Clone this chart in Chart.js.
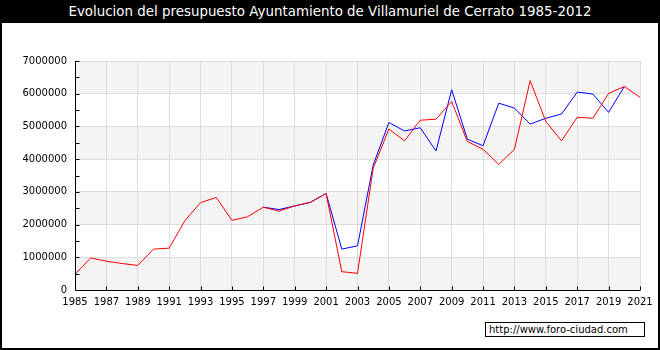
<!DOCTYPE html>
<html>
<head>
<meta charset="utf-8">
<script src="https://cdn.jsdelivr.net/npm/chart.js@4/dist/chart.umd.min.js"></script>
<style>
  body { margin: 0; background: #fff; }
  #wrap { position: relative; width: 660px; height: 350px; }
  #chart { position: absolute; left: 0; top: 0; }
  #frame { position: absolute; left: 0; top: 0; width: 660px; height: 350px; box-sizing: border-box;
           border: 2px solid #000; border-top: 0; pointer-events: none; }
  #title { position: absolute; left: 0; top: 0; width: 660px; height: 23px; background: #000; color: #fff;
           font: 13.4px "DejaVu Sans", sans-serif; line-height: 24px; text-align: center; }
  #credit { position: absolute; left: 485px; top: 322px; width: 160px; height: 15px; box-sizing: border-box;
            border: 1px solid #000; background: #fff; font: 10px "DejaVu Sans", sans-serif; line-height: 13px;
            padding-left: 3px; color: #000; }
</style>
</head>
<body>
<div id="wrap">
  <canvas id="chart" width="660" height="350"></canvas>
  <div id="frame"></div>
  <div id="title">Evolucion del presupuesto Ayuntamiento de Villamuriel de Cerrato 1985-2012</div>
  <div id="credit">http://www.foro-ciudad.com</div>
</div>
<script>
const years = [1985, 1986, 1987, 1988, 1989, 1990, 1991, 1992, 1993, 1994, 1995, 1996, 1997, 1998, 1999,
  2000, 2001, 2002, 2003, 2004, 2005, 2006, 2007, 2008, 2009, 2010, 2011, 2012, 2013, 2014, 2015, 2016,
  2017, 2018, 2019, 2020, 2021];

// red line
const ingresos = [480000, 980000, 880000, 810000, 750000, 1250000, 1280000, 2120000, 2670000, 2830000,
  2130000, 2240000, 2530000, 2410000, 2570000, 2680000, 2950000, 560000, 510000, 3720000, 4920000,
  4560000, 5190000, 5220000, 5760000, 4540000, 4300000, 3840000, 4300000, 6400000, 5150000, 4560000,
  5280000, 5250000, 6010000, 6220000, 5890000];

// blue line
const gastos = [null, null, null, null, null, null, null, null, null, null, null, null, 2530000, 2460000,
  2570000, 2680000, 2950000, 1250000, 1350000, 3820000, 5120000, 4860000, 4960000, 4250000, 6120000,
  4610000, 4410000, 5710000, 5560000, 5070000, 5250000, 5380000, 6050000, 5990000, 5430000, 6220000, null];

const yMax = 7000000;
const yStep = 1000000;

function toPoints(vals) {
    let pts = [];
    years.forEach((yr, i) => {
        pts.push({ x: yr, y: vals[i] });
    });
    return pts;
}

// alternating grey bands behind the grid
const bandsPlugin = {
    id: 'bands',
    beforeDraw(chart) {
        const { ctx, chartArea, scales } = chart;
        ctx.save();
        ctx.fillStyle = '#f4f4f4';
        for (let v = 0; v < yMax; v += 2 * yStep) {
            const top = scales.y.getPixelForValue(v + yStep);
            const bot = scales.y.getPixelForValue(v);
            ctx.fillRect(chartArea.left, top, chartArea.right - chartArea.left, bot - top);
        }
        ctx.restore();
    }
};

// black axes with short inward ticks
const axesPlugin = {
    id: 'axes',
    afterDraw(chart) {
        const { ctx, chartArea, scales } = chart;
        ctx.save();
        ctx.strokeStyle = '#000';
        ctx.lineWidth = 1;
        ctx.beginPath();
        const l = Math.round(chartArea.left) + 0.5;
        const b = Math.round(chartArea.bottom) + 0.5;
        ctx.moveTo(l, chartArea.top);
        ctx.lineTo(l, b);
        ctx.lineTo(chartArea.right, b);
        for (let v = yStep / 2; v <= yMax; v += yStep / 2) {
            const py = Math.round(scales.y.getPixelForValue(v)) + 0.5;
            ctx.moveTo(l, py);
            ctx.lineTo(l + 4, py);
        }
        for (let yr = years[0] + 2; yr <= years[years.length - 1]; yr += 2) {
            const px = Math.round(scales.x.getPixelForValue(yr)) + 0.5;
            ctx.moveTo(px, b);
            ctx.lineTo(px, b - 4);
        }
        ctx.stroke();
        ctx.restore();
    }
};

const tickFont = { family: 'DejaVu Sans', size: 10 };

new Chart(document.getElementById('chart'), {
    type: 'line',
    data: {
        datasets: [{
            data: toPoints(gastos),
            borderColor: '#0000ff',
            borderWidth: 1,
            pointRadius: 0,
            tension: 0,
            spanGaps: false,
            order: 2
        }, {
            data: toPoints(ingresos),
            borderColor: '#ff0000',
            borderWidth: 1,
            pointRadius: 0,
            tension: 0,
            order: 1
        }]
    },
    options: {
        responsive: false,
        animation: false,
        devicePixelRatio: 1,
        layout: { padding: { left: 0, top: 61, right: 20, bottom: 0 } },
        plugins: {
            legend: { display: false },
            tooltip: { enabled: false }
        },
        scales: {
            x: {
                type: 'linear',
                min: years[0],
                max: years[years.length - 1],
                afterFit: scale => { scale.height = 60; },
                grid: { color: '#dddddd', drawTicks: false },
                border: { display: false },
                ticks: {
                    stepSize: 2,
                    padding: 6,
                    color: '#000',
                    font: tickFont,
                    maxRotation: 0,
                    autoSkip: false,
                    callback: v => String(v)
                }
            },
            y: {
                min: 0,
                max: yMax,
                afterFit: scale => { scale.width = 75; },
                grid: { color: '#dddddd', drawTicks: false },
                border: { display: false },
                ticks: {
                    stepSize: yStep,
                    padding: 8,
                    color: '#000',
                    font: tickFont,
                    callback: v => String(v)
                }
            }
        }
    },
    plugins: [bandsPlugin, axesPlugin]
});
</script>
</body>
</html>
